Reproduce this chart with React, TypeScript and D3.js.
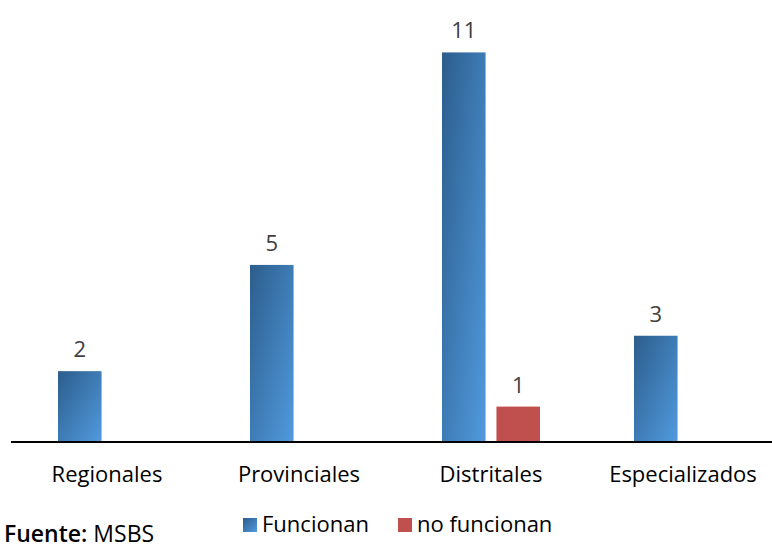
import React from "react";
import * as d3 from "d3";

const categories = ["Regionales", "Provinciales", "Distritales", "Especializados"];
const seriesNames = ["Funcionan", "no funcionan"];
const funcionan = [2, 5, 11, 3];
const noFuncionan = [null, null, 1, null];
const sourceLabel = "Fuente:";
const sourceValue = "MSBS";

const W = 772;
const H = 549;

export default function App() {
  const baseY = 442;
  const x = d3.scaleBand<string>().domain(categories).range([11, 779]).paddingInner(0).paddingOuter(0);
  const inner = d3.scaleBand<string>().domain(seriesNames).range([47, 145]).paddingInner(0.2);
  const y = d3.scaleLinear().domain([0, 12]).range([baseY, baseY - 425]);
  const font = "'Open Sans', 'Noto Sans', sans-serif";
  const seriesData = [funcionan, noFuncionan];

  return (
    <svg width={W} height={H} style={{ position: "absolute", left: 0, top: 0 }}>
      <defs>
        <linearGradient id="blueGrad" x1="0" y1="0" x2="1" y2="1">
          <stop offset="0" stopColor="#2c5d8c" />
          <stop offset="1" stopColor="#519ade" />
        </linearGradient>
      </defs>
      <rect width={W} height={H} fill="#fff" />
      {seriesData.map((vals, si) =>
        vals.map((v, ci) => {
          if (v == null) return null;
          const bx = (x(categories[ci]) ?? 0) + (inner(seriesNames[si]) ?? 0);
          const bw = inner.bandwidth();
          return (
            <g key={`${si}-${ci}`}>
              <rect
                x={bx}
                y={y(v)}
                width={bw}
                height={baseY - y(v)}
                fill={si === 0 ? "url(#blueGrad)" : "#c0504d"}
              />
              <text
                x={bx + bw / 2}
                y={y(v) - 14}
                textAnchor="middle"
                fontFamily={font}
                fontSize={22}
                fill="#404040"
              >
                {v}
              </text>
            </g>
          );
        })
      )}
      <line x1={11} x2={772} y1={baseY} y2={baseY} stroke="#000" strokeWidth={2} />
      {categories.map((c) => (
        <text
          key={c}
          x={(x(c) ?? 0) + x.bandwidth() / 2}
          y={482}
          textAnchor="middle"
          fontFamily={font}
          fontSize={22}
          fill="#000"
        >
          {c}
        </text>
      ))}
      {seriesNames.map((s, i) => {
        const lx = i === 0 ? 243 : 398;
        return (
          <g key={s}>
            <rect x={lx} y={518} width={14} height={14} fill={i === 0 ? "url(#blueGrad)" : "#c0504d"} />
            <text x={lx + 19} y={532} fontFamily={font} fontSize={22} fill="#000">
              {s}
            </text>
          </g>
        );
      })}
      <text x={4} y={542} fontFamily={font} fontSize={23} fill="#000">
        <tspan fontWeight={600}>{sourceLabel}</tspan>
        <tspan> {sourceValue}</tspan>
      </text>
    </svg>
  );
}
